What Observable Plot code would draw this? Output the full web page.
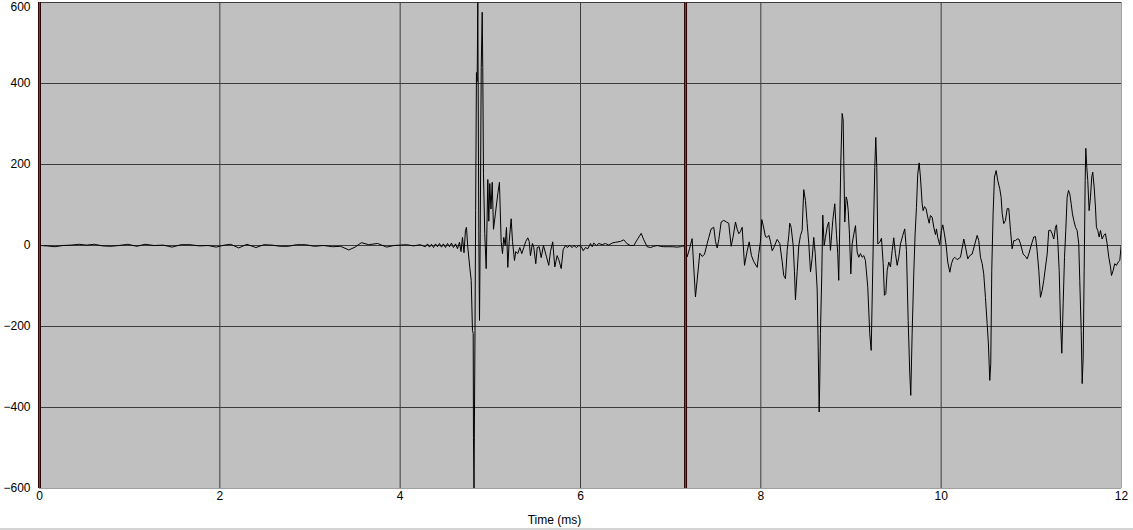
<!DOCTYPE html>
<html><head><meta charset="utf-8">
<script src="https://cdn.jsdelivr.net/npm/d3@7"></script>
<script src="https://cdn.jsdelivr.net/npm/@observablehq/plot@0.6"></script>
<style>
html,body{margin:0;padding:0;background:#fff;}
#chart{width:1133px;border-bottom:2px solid #d4d4d4;}
#chart svg{display:block;}
</style></head><body><div id="chart"></div>
<script>
// [time (ms), amplitude]
const quietPhase = [[0,0],[0.08,-1],[0.17,-3],[0.26,0],[0.35,1],[0.44,3],[0.52,1],[0.61,3],[0.70,-1],[0.79,-2],[0.88,0],[0.98,3],[1.08,-2],[1.17,3],[1.27,0],[1.37,1],[1.47,-4],[1.57,2],[1.67,2],[1.77,-1],[1.87,0],[1.96,-4],[2.05,1],[2.12,3],[2.21,-6],[2.30,3],[2.40,-5],[2.49,2],[2.58,1],[2.67,-2],[2.76,-2],[2.85,2],[2.95,2],[3.05,-2],[3.15,0],[3.25,-3],[3.34,-2],[3.43,-11],[3.50,-4],[3.57,7],[3.65,2],[3.75,5],[3.85,-4],[3.93,0],[4.00,1],[4.07,2],[4.15,-1],[4.22,2],[4.28,-3]];
const firstBurst = [[4.303,4],[4.325,-4],[4.347,3],[4.370,-5],[4.392,4],[4.414,-3],[4.436,5],[4.458,-4],[4.480,4],[4.503,-5],[4.525,5],[4.547,-3],[4.569,6],[4.591,-5],[4.614,4],[4.636,-8],[4.658,8],[4.675,-15],[4.691,20],[4.708,-18],[4.724,37],[4.735,45],[4.750,-4],[4.772,-54],[4.788,-86],[4.802,-210],[4.810,-217],[4.813,-474],[4.819,-600],[4.830,-210],[4.837,86],[4.846,427],[4.854,405],[4.861,600],[4.872,37],[4.880,-185],[4.888,30],[4.899,440],[4.910,576],[4.916,440],[4.924,177],[4.938,30],[4.954,-57],[4.972,163],[4.983,60],[4.994,153],[5.007,90],[5.021,156],[5.035,40],[5.057,80],[5.083,128],[5.101,156],[5.120,10],[5.135,-20],[5.149,20],[5.165,0],[5.179,45],[5.194,-54],[5.209,10],[5.231,66],[5.246,10],[5.268,-37],[5.282,-15],[5.304,-20],[5.327,-5],[5.349,-20],[5.371,-5],[5.393,10],[5.415,19],[5.431,10],[5.445,-25],[5.467,5],[5.482,-5],[5.504,-45],[5.520,-5],[5.542,-3],[5.564,-30]];
const settle = [[5.589,0],[5.623,-28],[5.648,-49],[5.667,-15],[5.692,9],[5.715,-53],[5.741,-25],[5.759,-35],[5.786,-57],[5.808,-10],[5.834,0],[5.852,-5],[5.881,0],[5.908,-5],[5.926,0],[5.955,-5],[5.981,0],[6.007,-2],[6.030,-13],[6.055,-5],[6.081,-8],[6.111,5],[6.130,-3],[6.147,6],[6.177,0],[6.203,5],[6.240,2],[6.277,5],[6.314,1],[6.351,6],[6.388,8],[6.443,10],[6.480,14],[6.518,4],[6.554,0],[6.591,0],[6.628,14],[6.673,30],[6.702,14],[6.739,-3],[6.776,-5],[6.813,-2],[6.850,0],[6.887,-2],[6.924,-3],[6.979,-3],[7.016,-3],[7.072,-4],[7.109,-3],[7.145,0]];
const echo = [[7.183,-28],[7.209,-8],[7.238,17],[7.256,-53],[7.275,-127],[7.294,-85],[7.323,-19],[7.349,-27],[7.375,-22],[7.405,5],[7.423,20],[7.449,41],[7.478,45],[7.497,10],[7.516,-6],[7.534,15],[7.560,58],[7.589,62],[7.618,58],[7.644,55],[7.671,-2],[7.693,22],[7.719,58],[7.738,40],[7.756,29],[7.775,35],[7.793,45],[7.819,-49],[7.849,-13],[7.871,9],[7.896,-25],[7.922,-40],[7.960,-54],[7.977,-20],[7.996,10],[8.011,64],[8.026,50],[8.051,22],[8.070,20],[8.089,25],[8.107,10],[8.126,-13],[8.144,-5],[8.181,15],[8.210,5],[8.237,-40],[8.254,-74],[8.273,-82],[8.292,-12],[8.310,25],[8.321,55],[8.336,45],[8.359,0],[8.373,-65],[8.384,-134],[8.403,-65],[8.421,0],[8.440,25],[8.458,37],[8.476,138],[8.495,111],[8.514,54],[8.532,4],[8.551,-65],[8.569,-32],[8.587,20],[8.603,-20],[8.625,-110],[8.636,-250],[8.647,-411],[8.654,-330],[8.661,-217],[8.676,-70],[8.687,75],[8.702,0],[8.717,20],[8.736,46],[8.753,58],[8.772,-12],[8.798,62],[8.820,103],[8.839,28],[8.853,-20],[8.864,-86],[8.875,45],[8.887,206],[8.902,326],[8.913,310],[8.920,210],[8.931,58],[8.946,120],[8.958,111],[8.969,86],[8.983,28],[8.998,-70],[9.013,4],[9.031,28],[9.050,49],[9.068,-16],[9.086,-29],[9.105,-20],[9.124,-29],[9.142,-25],[9.160,-37],[9.186,-103],[9.208,-218],[9.224,-259],[9.238,-95],[9.253,78],[9.264,193],[9.275,267],[9.286,193],[9.297,4],[9.319,8],[9.338,18],[9.357,-45],[9.371,-123],[9.386,-119],[9.401,-62],[9.419,-41],[9.438,-53],[9.457,-12],[9.474,19],[9.493,-20],[9.512,-49],[9.530,-29],[9.549,4],[9.574,25],[9.596,41],[9.615,-12],[9.634,-185],[9.652,-317],[9.663,-370],[9.678,-218],[9.696,-70],[9.711,28],[9.726,94],[9.740,176],[9.756,204],[9.770,169],[9.789,103],[9.800,86],[9.815,96],[9.834,90],[9.851,70],[9.867,55],[9.881,74],[9.900,70],[9.918,45],[9.937,27],[9.948,41],[9.962,20],[9.984,2],[10.003,37],[10.018,51],[10.036,29],[10.055,0],[10.073,-41],[10.096,-66],[10.114,-45],[10.133,-33],[10.151,-29],[10.177,-35],[10.214,-29],[10.251,16],[10.270,-4],[10.295,-33],[10.317,-25],[10.344,-21],[10.369,0],[10.399,25],[10.417,12],[10.436,-29],[10.455,-45],[10.472,-70],[10.491,-128],[10.510,-193],[10.524,-243],[10.539,-333],[10.550,-292],[10.561,-62],[10.576,78],[10.591,169],[10.610,185],[10.628,160],[10.650,140],[10.665,119],[10.677,78],[10.694,54],[10.713,62],[10.732,91],[10.750,91],[10.769,37],[10.787,-8],[10.805,12],[10.824,12],[10.843,16],[10.861,16],[10.880,4],[10.909,-21],[10.935,-27],[10.954,-33],[10.972,-21],[10.998,0],[11.027,21],[11.046,22],[11.064,-12],[11.083,-62],[11.101,-128],[11.120,-111],[11.138,-86],[11.157,-53],[11.176,-21],[11.193,37],[11.212,38],[11.231,29],[11.249,16],[11.268,45],[11.279,51],[11.293,12],[11.309,-62],[11.323,-185],[11.338,-266],[11.353,-144],[11.368,-29],[11.382,37],[11.397,119],[11.412,136],[11.426,128],[11.442,103],[11.456,78],[11.471,62],[11.490,45],[11.508,37],[11.526,4],[11.537,-86],[11.553,-210],[11.564,-341],[11.575,-276],[11.586,-62],[11.597,160],[11.604,240],[11.615,193],[11.626,160],[11.641,86],[11.656,119],[11.670,169],[11.681,181],[11.697,144],[11.711,95],[11.722,45],[11.737,37],[11.752,21],[11.767,37],[11.785,16],[11.803,25],[11.822,29],[11.841,4],[11.859,-29],[11.878,-53],[11.889,-74],[11.907,-62],[11.925,-45],[11.944,-49],[11.963,-41],[11.981,-37],[11.996,0]];

const xTicks = [0, 2, 4, 6, 8, 10, 12];
const yTicks = [-600, -400, -200, 0, 200, 400, 600];
const markerTimes = [0, 7.165];
const xLabel = "Time (ms)";

const wave = [...quietPhase, ...firstBurst, ...settle, ...echo].map(([t, v]) => ({t, v}));
const yMax = d3.max(yTicks);

const chart = Plot.plot({
  width: 1133,
  height: 528,
  marginLeft: 39,
  marginRight: 12,
  marginTop: 2,
  marginBottom: 40,
  style: {fontFamily: "'Liberation Sans', Arial, sans-serif", fontSize: "12px", color: "#000", background: "#fff"},
  x: {domain: [0, 12]},
  y: {domain: [-600, 600]},
  marks: [
    Plot.frame({fill: "#c0c0c0", stroke: null}),
    Plot.gridX(xTicks.filter(d => d < 12), {stroke: "#3c3c3c", strokeOpacity: 1}),
    Plot.gridY(yTicks.filter(d => d > -600), {stroke: "#3c3c3c", strokeOpacity: 1}),
    Plot.ruleX([12], {stroke: "#a0a0a0", strokeWidth: 1}),
    Plot.ruleY([-600], {stroke: "#a0a0a0", strokeWidth: 1}),
    Plot.line(wave, {x: "t", y: "v", stroke: "#000", strokeWidth: 1, clip: true}),
    Plot.ruleX(markerTimes, {stroke: "#2a0505", strokeWidth: 3}),
    Plot.ruleX(markerTimes, {stroke: "#a03030", strokeWidth: 1}),
    Plot.axisX(xTicks, {tickSize: 0, tickPadding: 3, label: null, fontSize: 12}),
    Plot.axisY(yTicks.filter(d => d < yMax), {tickSize: 0, tickPadding: 9, label: null, fontSize: 12}),
    Plot.axisY([yMax], {tickSize: 0, tickPadding: 9, label: null, fontSize: 12, dy: 5}),
    Plot.text([xLabel], {frameAnchor: "bottom", dy: 35, dx: -26, fontSize: 12, fill: "#000"})
  ]
});
document.getElementById("chart").append(chart);
</script></body></html>
